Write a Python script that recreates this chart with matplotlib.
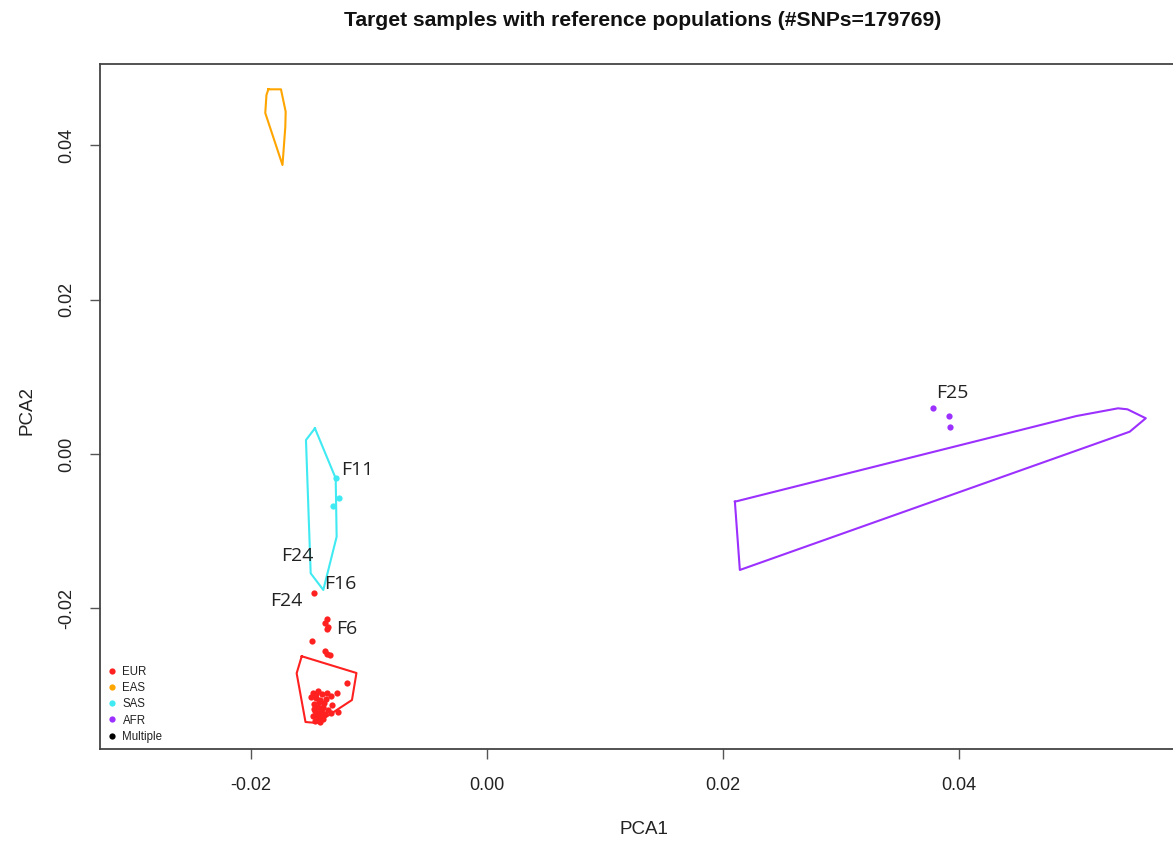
import matplotlib
matplotlib.use("Agg")
import matplotlib.pyplot as plt
from matplotlib.lines import Line2D

# ---------------- data ----------------
title = "Target samples with reference populations (#SNPs=179769)"
xlabel = "PCA1"
ylabel = "PCA2"
xticks = [-0.02, 0.00, 0.02, 0.04]
xticklabels = ["-0.02", "0.00", "0.02", "0.04"]
yticks = [-0.02, 0.00, 0.02, 0.04]
yticklabels = ["-0.02", "0.00", "0.02", "0.04"]

# reference population hulls
eur_hull_x = [-0.01570, -0.01106, -0.01144, -0.01441, -0.01538, -0.01613]
eur_hull_y = [-0.02621, -0.02838, -0.03188, -0.03486, -0.03473, -0.02842]
eas_hull_x = [-0.01853, -0.01746, -0.01706, -0.01709, -0.01733, -0.01879, -0.01869]
eas_hull_y = [0.04726, 0.04726, 0.04436, 0.04241, 0.03745, 0.04419, 0.04652]
sas_hull_x = [-0.01458, -0.01282, -0.01274, -0.01387, -0.01494, -0.01534]
sas_hull_y = [0.00333, -0.00315, -0.01072, -0.01762, -0.01546, 0.00181]
afr_hull_x = [0.02102, 0.02144, 0.05449, 0.05585, 0.05430, 0.05350, 0.04997]
afr_hull_y = [-0.00618, -0.01503, 0.00289, 0.00463, 0.00579, 0.00592, 0.00492]

# target samples
eur_pts_x = [-0.01466, -0.01358, -0.01373, -0.01345, -0.01353, -0.01483, -0.01373,
             -0.01353, -0.01331,
             -0.01475, -0.01432, -0.01398, -0.01356, -0.01322, -0.01271, -0.01449,
             -0.01415, -0.01381, -0.01314, -0.01466, -0.01432, -0.01390, -0.01347,
             -0.01263, -0.01458, -0.01415, -0.01373, -0.01475, -0.01432, -0.01390,
             -0.01458, -0.01415, -0.01492, -0.01364, -0.01449, -0.01407, -0.01322,
             -0.01441, -0.01186, -0.01424, -0.01398, -0.01440, -0.01405, -0.01470]
eur_pts_y = [-0.01805, -0.02138, -0.02194, -0.02238, -0.02268, -0.02423, -0.02549,
             -0.02592, -0.02601,
             -0.03097, -0.03071, -0.03110, -0.03097, -0.03136, -0.03097, -0.03162,
             -0.03188, -0.03227, -0.03253, -0.03240, -0.03279, -0.03279, -0.03317,
             -0.03343, -0.03330, -0.03356, -0.03369, -0.03395, -0.03421, -0.03434,
             -0.03460, -0.03473, -0.03149, -0.03175, -0.03110, -0.03317, -0.03356,
             -0.03382, -0.02967, -0.03210, -0.03300, -0.03350, -0.03400, -0.03300]
sas_pts_x = [-0.01282, -0.01252, -0.01303]
sas_pts_y = [-0.00315, -0.00566, -0.00674]
afr_pts_x = [0.03782, 0.03918, 0.03924]
afr_pts_y = [0.00592, 0.00492, 0.00346]

label_text = ["F11", "F24", "F16", "F24", "F6", "F25"]
label_x = [-0.01102, -0.01610, -0.01246, -0.01703, -0.01186, 0.03941]
label_y = [-0.00207, -0.01322, -0.01685, -0.01905, -0.02268, 0.00790]

legend_labels = ["EUR", "EAS", "SAS", "AFR", "Multiple"]
colors = {"EUR": "#FF2020", "EAS": "#FFA500", "SAS": "#3FEAF2", "AFR": "#9B30FF",
          "Multiple": "#000000"}

# ---------------- plot ----------------
W, H = 1173, 842
fig = plt.figure(figsize=(W / 100, H / 100), dpi=100)
L, R, T, B = 100, 1190, 64, 749
ax = fig.add_axes([L / W, (H - B) / H, (R - L) / W, (B - T) / H])
ax.set_xlim(-0.0328, 0.0596)
ax.set_ylim(-0.03823, 0.05054)

lw = 1.5
for hx, hy, key in [(eur_hull_x, eur_hull_y, "EUR"), (eas_hull_x, eas_hull_y, "EAS"),
                    (sas_hull_x, sas_hull_y, "SAS"), (afr_hull_x, afr_hull_y, "AFR")]:
    ax.plot(hx + hx[:1], hy + hy[:1], color=colors[key], lw=lw, solid_joinstyle="round")

ax.plot(eur_pts_x, eur_pts_y, "o", color=colors["EUR"], ms=4.5, mew=0)
ax.plot(sas_pts_x, sas_pts_y, "o", color=colors["SAS"], ms=4.5, mew=0)
ax.plot(afr_pts_x, afr_pts_y, "o", color=colors["AFR"], ms=4.5, mew=0)

for t, x, y in zip(label_text, label_x, label_y):
    ax.text(x, y, t, ha="center", va="center", fontsize=14, color="#222222",
            family="Open Sans")

ax.set_xticks(xticks)
ax.set_xticklabels(xticklabels)
ax.set_yticks(yticks)
ax.set_yticklabels(yticklabels, rotation=90, va="center")
ax.tick_params(direction="out", length=7, width=1, colors="#555555",
               labelcolor="#222222", labelsize=13)
ax.tick_params(axis="x", pad=13)
ax.tick_params(axis="y", pad=11)
for lab in ax.get_xticklabels() + ax.get_yticklabels():
    lab.set_family("Liberation Sans")
for s in ["left", "top", "bottom", "right"]:
    ax.spines[s].set_color("#444444")
    ax.spines[s].set_linewidth(1.3)

fig.text(643 / W, 1 - 20 / H, title, ha="center", va="center", fontsize=15.2,
         fontweight="bold", family="Liberation Sans", color="#111111")
fig.text(644 / W, 1 - 829 / H, xlabel, ha="center", va="center", fontsize=13.5,
         family="Liberation Sans", color="#222222")
fig.text(27 / W, 1 - 410 / H, ylabel, ha="center", va="center", fontsize=13.5,
         family="Liberation Sans", color="#222222", rotation=90)

handles = [Line2D([], [], ls="", marker="o", ms=4.5, mew=0, color=colors[k])
           for k in legend_labels]
leg = ax.legend(handles, legend_labels, loc="lower left", frameon=False,
                prop={"family": "Liberation Sans", "size": 8.3},
                bbox_to_anchor=(0.0, 0.0), handlelength=1.0, handletextpad=0.4,
                labelspacing=0.36, borderaxespad=0.25, borderpad=0.3)
for t in leg.get_texts():
    t.set_color("#222222")

fig.savefig("out.png", dpi=100)
